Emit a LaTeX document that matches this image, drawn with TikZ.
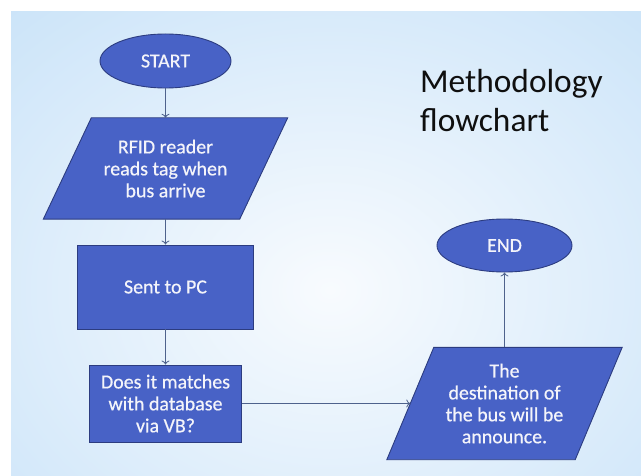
\documentclass[tikz,border=0pt]{standalone}
\usepackage{fontspec}
\setmainfont{Carlito}
\newfontfamily\boxfam[FakeBold=0.5]{Carlito}
\usetikzlibrary{shapes.geometric,calc,arrows.meta}
\pgfdeclarelayer{bglayer}
\pgfdeclarelayer{shapelayer}
\pgfsetlayers{bglayer,shapelayer,main}
\definecolor{boxblue}{RGB}{72,98,198}
\definecolor{boxedge}{RGB}{44,60,128}
\definecolor{arrowcol}{RGB}{78,98,140}
\definecolor{bgblue}{RGB}{190,221,247}
\definecolor{bgwhite}{RGB}{248,251,254}
\definecolor{boxtext}{RGB}{244,244,250}
\definecolor{titlecol}{RGB}{15,15,15}
\tikzset{
  shapebox/.style={fill=boxblue, draw=boxedge, line width=0.9bp},
  boxfont/.style={font=\boxfam\fontsize{20}{22}\selectfont, text=boxtext, align=center, inner sep=0pt},
  terminal/.style={ellipse, shapebox, boxfont},
  procbox/.style={rectangle, shapebox, boxfont},
  iobox/.style={rectangle, boxfont},
  flow/.style={draw=arrowcol, line width=0.8bp, -{To[length=4bp,width=8bp]}},
}
\begin{document}
\begin{tikzpicture}[x=1bp,y=-1bp]
\useasboundingbox (0,0) rectangle (641,476);
\begin{pgfonlayer}{bglayer}
  \fill[white] (0,0) rectangle (641,476);
  \fill[bgblue] (11,12) rectangle (641,476);
  \begin{scope}
    \clip (11,12) rectangle (641,476);
    \shade[inner color=bgwhite, outer color=bgblue] (330,290) ellipse [x radius=620bp, y radius=500bp];
  \end{scope}
\end{pgfonlayer}

\node[terminal, minimum width=131bp, minimum height=54bp] (start) at (165.5,61) {START};
\node[iobox, minimum width=196bp, minimum height=101bp] (p1) at (165.5,168.5) {RFID reader\\reads tag when\\bus arrive};
\node[procbox, minimum width=176bp, minimum height=84bp] (sent) at (165.5,287) {Sent to PC};
\node[procbox, minimum width=152bp, minimum height=77bp] (match) at (165.5,403.5) {Does it matches\\with database\\via VB?};
\node[iobox, minimum width=188bp, minimum height=112bp] (p2) at (504.5,403.5) {The\\destination of\\the bus will be\\announce.};
\node[terminal, minimum width=135bp, minimum height=53bp] (end) at (504.5,245.5) {END};

\node[anchor=base west, align=left, font=\fontsize{33.5}{40}\selectfont, text=titlecol, inner sep=0pt] (title) at (420,132) {Methodology\\flowchart};

\begin{pgfonlayer}{shapelayer}
  \path[shapebox] ($(p1.north west)+(24,0)$) -- ($(p1.north east)+(24,0)$) -- ($(p1.south east)+(-24,0)$) -- ($(p1.south west)+(-24,0)$) -- cycle;
  \path[shapebox] ($(p2.north west)+(23.5,0)$) -- ($(p2.north east)+(23.5,0)$) -- ($(p2.south east)+(-23.5,0)$) -- ($(p2.south west)+(-23.5,0)$) -- cycle;
\end{pgfonlayer}

\draw[flow] (start) -- (p1);
\draw[flow] (p1) -- (sent);
\draw[flow] (sent) -- (match);
\draw[flow] (match) -- (p2);
\draw[flow] (p2) -- (end);
\end{tikzpicture}
\end{document}
